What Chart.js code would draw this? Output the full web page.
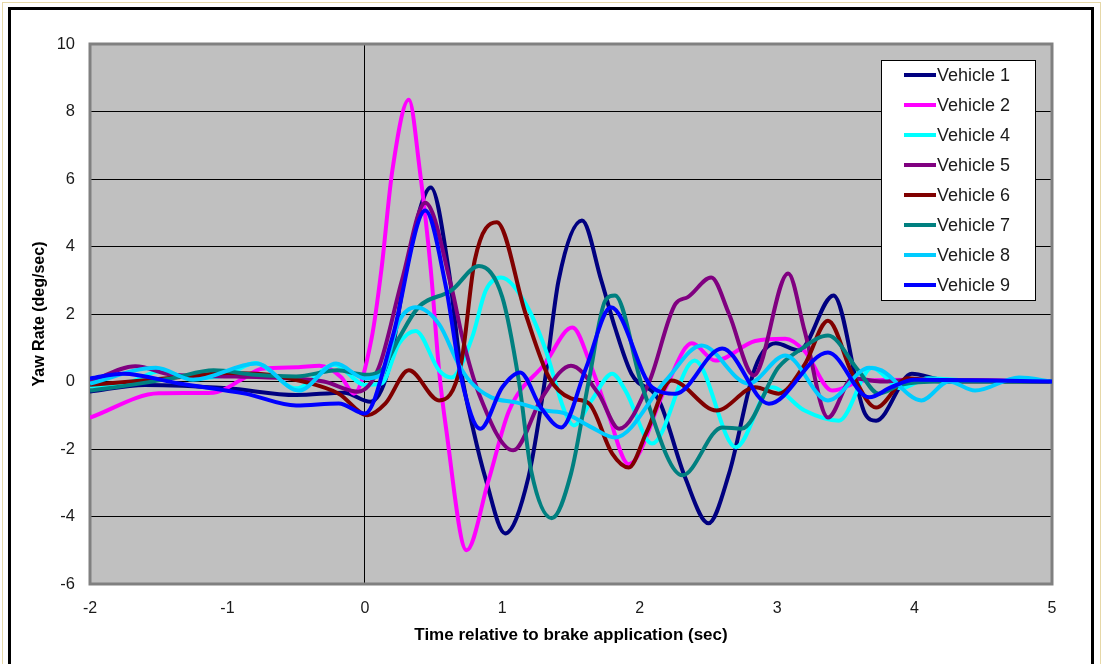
<!DOCTYPE html>
<html>
<head>
<meta charset="utf-8">
<script src="https://cdn.jsdelivr.net/npm/chart.js@4.4.1/dist/chart.umd.min.js"></script>
<style>
  html, body { margin: 0; padding: 0; background: #fff; }
  #wrap { width: 1103px; height: 664px; }
</style>
</head>
<body>
<div id="wrap"><canvas id="yawChart" width="1103" height="664"></canvas></div>
<script>
// ---- data (time in sec, yaw rate in deg/sec) ----
const vehicleNames = ["Vehicle 1", "Vehicle 2", "Vehicle 4", "Vehicle 5", "Vehicle 6", "Vehicle 7", "Vehicle 8", "Vehicle 9"];

const v1Time = [-2, -1.6, -1.0, -0.5, -0.15, 0.04, 0.17, 0.3, 0.48, 0.61, 0.7, 0.79, 0.88, 1.02, 1.19, 1.31, 1.41, 1.58, 1.72, 1.82, 1.94, 2.14, 2.33, 2.5, 2.65, 2.84, 2.99, 3.16, 3.41, 3.64, 3.72, 3.98, 4.2, 5];
const v1Yaw  = [-0.3, -0.1, -0.2, -0.4, -0.33, -0.6, 0.33, 3.3, 5.75, 3.3, 0.33, -1.45, -2.9, -4.5, -2.84, 0.03, 3.0, 4.77, 3.0, 1.6, 0.23, -0.56, -2.84, -4.2, -2.73, 0.41, 1.13, 0.92, 2.55, -0.96, -1.16, 0.23, 0.05, 0];

const v2Time = [-2, -1.5, -1.1, -0.9, -0.75, -0.5, -0.33, -0.17, -0.08, 0.05, 0.12, 0.2, 0.32, 0.4, 0.48, 0.54, 0.59, 0.74, 0.9, 1.05, 1.31, 1.51, 1.65, 1.77, 1.92, 2.19, 2.38, 2.55, 2.84, 3.06, 3.2, 3.4, 3.64, 4.0, 5];
const v2Yaw  = [-1.07, -0.35, -0.33, 0.05, 0.38, 0.42, 0.47, 0.12, -0.36, 1.3, 3.3, 6.25, 8.35, 6.25, 3.3, 0.33, -1.36, -5.0, -2.93, -0.86, 0.53, 1.6, 0.41, -0.95, -2.45, -0.17, 1.13, 0.62, 1.2, 1.27, 0.9, -0.27, 0.03, 0.05, 0];

const v4Time = [-2, -1.7, -1.5, -1.25, -1.0, -0.8, -0.5, -0.22, 0, 0.12, 0.25, 0.37, 0.54, 0.63, 0.78, 0.88, 0.99, 1.17, 1.31, 1.46, 1.52, 1.65, 1.8, 1.9, 2.09, 2.4, 2.7, 2.96, 3.2, 3.45, 3.69, 3.9, 4.1, 4.5, 5];
const v4Yaw  = [-0.15, 0.0, 0.3, 0.1, 0.2, 0.55, -0.2, 0.5, -0.1, -0.06, 1.13, 1.5, 0.33, 0.12, 1.3, 2.7, 3.08, 2.3, 1.0, -0.95, -1.3, -0.56, 0.23, -0.3, -1.84, 0.62, -1.95, -0.17, -0.86, -1.16, 0.41, -0.2, 0.1, 0.0, 0];

const v5Time = [-2, -1.67, -1.4, -1.0, -0.6, -0.3, -0.05, 0.1, 0.27, 0.44, 0.63, 0.71, 0.83, 1.08, 1.29, 1.5, 1.7, 1.85, 2.07, 2.26, 2.35, 2.52, 2.65, 2.83, 3.08, 3.2, 3.37, 3.55, 3.75, 4.0, 5];
const v5Yaw  = [0.0, 0.45, 0.2, 0.15, 0.1, 0.0, -0.3, 0.4, 3.0, 5.3, 2.8, 1.3, -0.36, -2.04, -0.47, 0.47, -0.36, -1.4, 0.0, 2.3, 2.5, 3.08, 2.0, 0.18, 3.2, 1.5, -1.07, 0.1, 0.0, 0.05, 0];

const v6Time = [-2, -1.7, -1.3, -1.0, -0.7, -0.45, -0.19, 0.02, 0.15, 0.32, 0.54, 0.7, 0.8, 0.96, 1.17, 1.34, 1.5, 1.63, 1.8, 1.92, 2.05, 2.23, 2.56, 2.84, 3.01, 3.2, 3.37, 3.55, 3.72, 3.95, 4.2, 5];
const v6Yaw  = [-0.1, 0.0, 0.15, 0.25, 0.2, 0.0, -0.36, -1.0, -0.65, 0.33, -0.56, 0.53, 3.6, 4.72, 2.0, 0.12, -0.5, -0.65, -2.14, -2.55, -1.5, 0.03, -0.86, -0.17, -0.36, 0.5, 1.8, 0.2, -0.77, 0.1, 0.0, 0];

const v7Time = [-2, -1.7, -1.4, -1.1, -0.8, -0.5, -0.2, 0, 0.12, 0.25, 0.39, 0.63, 0.83, 1.0, 1.12, 1.21, 1.36, 1.5, 1.63, 1.75, 1.82, 2.02, 2.31, 2.6, 2.74, 3.01, 3.16, 3.37, 3.59, 3.74, 3.9, 4.2, 5];
const v7Yaw  = [-0.27, -0.1, 0.1, 0.33, 0.2, 0.15, 0.33, 0.2, 0.33, 1.3, 2.2, 2.7, 3.42, 2.5, 0.03, -2.64, -4.05, -2.73, 0.03, 2.4, 2.55, -0.17, -2.78, -1.36, -1.4, 0.42, 0.92, 1.36, 0.33, -0.36, -0.1, 0.0, 0];

const v8Time = [-2, -1.52, -1.25, -0.79, -0.48, -0.21, 0, 0.12, 0.25, 0.37, 0.54, 0.68, 0.76, 0.92, 1.1, 1.31, 1.46, 1.65, 1.82, 2.19, 2.45, 2.79, 3.06, 3.37, 3.67, 3.76, 4.05, 4.25, 4.44, 4.76, 5];
const v8Yaw  = [-0.06, 0.41, 0.05, 0.53, -0.27, 0.53, 0.09, 0.2, 1.8, 2.2, 1.7, 0.53, 0.03, -0.47, -0.62, -0.86, -0.95, -1.36, -1.66, 0.03, 1.07, -0.06, 0.77, -0.56, 0.41, 0.33, -0.56, 0.0, -0.27, 0.12, 0];

const v9Time = [-2, -1.76, -1.35, -0.87, -0.5, -0.19, 0, 0.2, 0.44, 0.59, 0.7, 0.84, 1.0, 1.13, 1.28, 1.43, 1.61, 1.79, 2.09, 2.26, 2.6, 2.94, 3.37, 3.67, 3.83, 4.0, 5];
const v9Yaw  = [0.09, 0.23, -0.06, -0.36, -0.71, -0.65, -0.95, 1.3, 5.07, 2.8, 0.12, -1.4, -0.17, 0.27, -0.77, -1.36, 0.41, 2.2, -0.17, -0.36, 0.98, -0.66, 0.86, -0.47, -0.17, 0.05, 0];

const seriesTimes = [v1Time, v2Time, v4Time, v5Time, v6Time, v7Time, v8Time, v9Time];
const seriesYaws  = [v1Yaw, v2Yaw, v4Yaw, v5Yaw, v6Yaw, v7Yaw, v8Yaw, v9Yaw];

const X_MIN = -2, X_MAX = 5, X_STEP = 1;
const Y_MIN = -6, Y_MAX = 10, Y_STEP = 2;

// ---- styling ----
const COLORS = ["#000080", "#FF00FF", "#00FFFF", "#800080", "#800000", "#008080", "#00CCFF", "#0000FF"];
const FONT = "'Liberation Sans', Arial, sans-serif";
const PLOT_BG = "#C0C0C0";
const TEXT = "#1a1a1a";

const datasets = vehicleNames.map((name, i) => ({
  label: name,
  data: seriesTimes[i].map((t, k) => ({ x: t, y: seriesYaws[i][k] })),
  borderColor: COLORS[i],
  backgroundColor: COLORS[i],
  borderWidth: 4,
  pointRadius: 0,
  cubicInterpolationMode: "monotone",
  fill: false,
  order: vehicleNames.length - i,   // later vehicles drawn on top (Excel order)
}));

// plot background, outer frame
const backdrop = {
  id: "backdrop",
  beforeDraw(chart) {
    const { ctx, chartArea: a } = chart;
    ctx.save();
    ctx.fillStyle = "#fff";
    ctx.fillRect(0, 0, chart.width, chart.height);
    ctx.strokeStyle = "#E6D8A8";
    ctx.lineWidth = 1;
    ctx.strokeRect(2.5, 2.5, chart.width - 5, chart.height + 10);
    ctx.strokeStyle = "#000";
    ctx.lineWidth = 3;
    ctx.strokeRect(9.5, 8.5, chart.width - 20, chart.height + 20);
    ctx.fillStyle = PLOT_BG;
    ctx.fillRect(a.left, a.top, a.right - a.left, a.bottom - a.top);
    ctx.restore();
  },
  beforeDatasetsDraw(chart) {
    const { ctx, chartArea: a } = chart;
    ctx.save();
    ctx.strokeStyle = "#808080";
    ctx.lineWidth = 3;
    ctx.strokeRect(a.left, a.top, a.right - a.left, a.bottom - a.top);
    ctx.restore();
  },
};

// boxed legend in upper right of the plot
const boxLegend = {
  id: "boxLegend",
  afterDraw(chart) {
    const { ctx } = chart;
    const bx = 881.5, by = 60.5, bw = 154, bh = 240;
    ctx.save();
    ctx.fillStyle = "#fff";
    ctx.fillRect(bx, by, bw, bh);
    ctx.strokeStyle = "#000";
    ctx.lineWidth = 1;
    ctx.strokeRect(bx, by, bw, bh);
    ctx.font = "18px " + FONT;
    ctx.textBaseline = "middle";
    chart.data.datasets.forEach((ds, i) => {
      const y = 75 + i * 30;
      ctx.strokeStyle = ds.borderColor;
      ctx.lineWidth = 4;
      ctx.beginPath();
      ctx.moveTo(904, y);
      ctx.lineTo(936, y);
      ctx.stroke();
      ctx.fillStyle = TEXT;
      ctx.fillText(ds.label, 937, y + 1);
    });
    ctx.restore();
  },
};

new Chart(document.getElementById("yawChart"), {
  type: "line",
  data: { datasets },
  plugins: [backdrop, boxLegend],
  options: {
    responsive: false,
    animation: false,
    layout: { padding: { top: 44, right: 51, left: 0, bottom: 0 } },
    plugins: {
      legend: { display: false },
      tooltip: { enabled: false },
    },
    scales: {
      x: {
        type: "linear",
        min: X_MIN,
        max: X_MAX,
        afterFit: (s) => { s.height = 80; },
        border: { display: false },
        grid: {
          drawTicks: false,
          lineWidth: 1,
          color: (c) => (c.tick && c.tick.value === 0 ? "#000" : "rgba(0,0,0,0)"),
        },
        ticks: {
          stepSize: X_STEP,
          padding: 15,
          color: TEXT,
          font: { family: FONT, size: 16 },
          maxRotation: 0,
        },
        title: {
          display: true,
          text: "Time relative to brake application (sec)",
          color: "#000",
          font: { family: FONT, size: 17, weight: "bold" },
          padding: { top: 0, bottom: 18 },
        },
      },
      y: {
        min: Y_MIN,
        max: Y_MAX,
        afterFit: (s) => { s.width = 90; },
        border: { display: false },
        grid: {
          drawTicks: false,
          lineWidth: 1,
          color: (c) => (c.tick && (c.tick.value === Y_MIN || c.tick.value === Y_MAX) ? "rgba(0,0,0,0)" : "#000"),
        },
        ticks: {
          stepSize: Y_STEP,
          padding: 15,
          color: TEXT,
          font: { family: FONT, size: 16.5 },
        },
        title: {
          display: true,
          text: "Yaw Rate (deg/sec)",
          color: "#000",
          font: { family: FONT, size: 16, weight: "bold" },
          padding: { top: 30, bottom: 0 },
        },
      },
    },
  },
});
</script>
</body>
</html>
